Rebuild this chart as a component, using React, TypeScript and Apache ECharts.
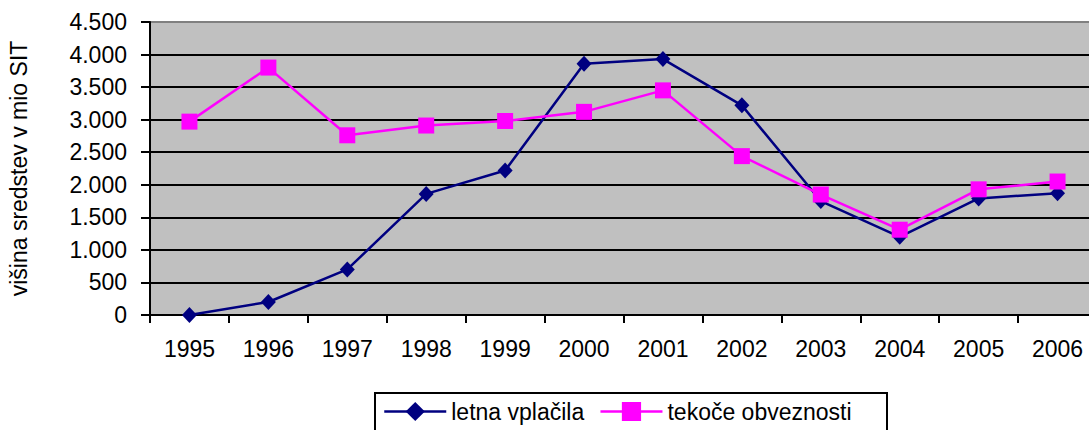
import React, { useEffect, useRef } from "react";
import * as echarts from "echarts";

const years = ["1995", "1996", "1997", "1998", "1999", "2000", "2001", "2002", "2003", "2004", "2005", "2006"];
const letnaVplacila = [0, 200, 700, 1860, 2220, 3860, 3930, 3220, 1750, 1200, 1790, 1870];
const tekoceObveznosti = [2970, 3800, 2760, 2910, 2980, 3120, 3450, 2440, 1850, 1310, 1930, 2050];
const seriesNames = ["letna vplačila", "tekoče obveznosti"];
const yAxisTitle = "višina sredstev v mio SIT";

const FONT = "'Liberation Sans', Arial, sans-serif";

function fmt(v: number): string {
  return String(v).replace(/\B(?=(\d{3})+(?!\d))/g, ".");
}

export default function App() {
  const ref = useRef<HTMLDivElement>(null);
  useEffect(() => {
    if (!ref.current) return;
    const chart = echarts.init(ref.current, undefined, { renderer: "svg" });
    const splitColors = Array.from({ length: 10 }, (_, i) => (i === 9 ? "#808080" : "#000000"));
    chart.setOption({
      animation: false,
      backgroundColor: "#ffffff",
      grid: {
        left: 150,
        top: 22,
        bottom: 115,
        right: -8,
        outerBoundsMode: "none",
        containLabel: false,
        show: true,
        backgroundColor: "#C0C0C0",
        borderWidth: 0,
      },
      graphic: [
        {
          type: "rect",
          shape: { x: 375, y: 393, width: 512, height: 60 },
          style: { fill: "#ffffff", stroke: "#000000", lineWidth: 2 },
          z: 0,
        },
      ],
      legend: {
        left: 383,
        top: 400,
        padding: 0,
        itemGap: 15,
        itemWidth: 62,
        itemHeight: 24,
        lineStyle: { width: 2.5 },
        textStyle: { fontFamily: FONT, fontSize: 23, color: "#000" },
        data: seriesNames,
        z: 10,
      },
      xAxis: {
        type: "category",
        data: years,
        boundaryGap: true,
        axisLine: { show: true, lineStyle: { color: "#000", width: 2 } },
        axisTick: { show: true, length: 8, lineStyle: { color: "#000", width: 2 } },
        axisLabel: { margin: 22, color: "#000", fontFamily: FONT, fontSize: 23 },
        splitLine: { show: false },
      },
      yAxis: {
        type: "value",
        min: 0,
        max: 4500,
        interval: 500,
        name: yAxisTitle,
        nameLocation: "middle",
        nameRotate: 90,
        nameGap: 120,
        nameTextStyle: { fontFamily: FONT, fontSize: 23, color: "#000" },
        axisLine: { show: true, lineStyle: { color: "#000", width: 2 } },
        axisTick: { show: true, length: 9, lineStyle: { color: "#000", width: 2 } },
        axisLabel: { margin: 23, color: "#000", fontFamily: FONT, fontSize: 23, formatter: (v: number) => fmt(v) },
        splitLine: { show: true, lineStyle: { color: splitColors, width: 2 } },
      },
      series: [
        {
          name: seriesNames[0],
          type: "line",
          data: letnaVplacila,
          symbol: "diamond",
          symbolSize: [15, 16],
          lineStyle: { color: "#000080", width: 2.5 },
          itemStyle: { color: "#000080" },
        },
        {
          name: seriesNames[1],
          type: "line",
          data: tekoceObveznosti,
          symbol: "rect",
          symbolSize: 16,
          lineStyle: { color: "#FF00FF", width: 2.5 },
          itemStyle: { color: "#FF00FF" },
        },
      ],
    });
    return () => chart.dispose();
  }, []);
  return (
    <div
      ref={ref}
      style={{ position: "absolute", left: 0, top: 0, width: 1089, height: 430 }}
    />
  );
}
